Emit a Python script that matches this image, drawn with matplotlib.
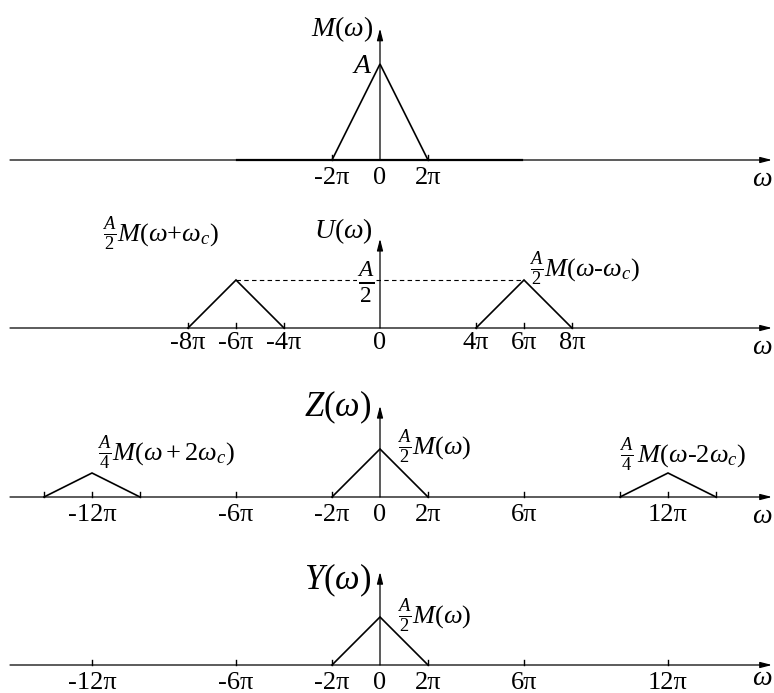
import matplotlib
matplotlib.use("Agg")
import matplotlib.pyplot as plt

plt.rcParams['font.family'] = ['Liberation Serif', 'DejaVu Serif']
plt.rcParams['mathtext.fontset'] = 'custom'
plt.rcParams['mathtext.rm'] = 'Liberation Serif'
plt.rcParams['mathtext.it'] = 'Liberation Serif:italic'
plt.rcParams['mathtext.bf'] = 'Liberation Serif:bold'

# spectra: corners of each triangle, omega in units of pi, height in units of A
M_w = [[-2, 0, 2]]
M_h = [[0, 1, 0]]
U_w = [[-8, -6, -4], [4, 6, 8]]
U_h = [[0, 0.5, 0], [0, 0.5, 0]]
Z_w = [[-14, -12, -10], [-2, 0, 2], [10, 12, 14]]
Z_h = [[0, 0.25, 0], [0, 0.5, 0], [0, 0.25, 0]]
Y_w = [[-2, 0, 2]]
Y_h = [[0, 0.5, 0]]

# tick positions / labels (units of pi)
M_ticks = [-2, 0, 2]
M_labels = ['-2π', '0', '2π']
U_ticks = [-8, -6, -4, 0, 4, 6, 8]
U_labels = ['-8π', '-6π', '-4π', '0', '4π', '6π', '8π']
Z_ticks = [-14, -12, -10, -6, -2, 0, 2, 6, 10, 12, 14]
Z_labels = ['', '-12π', '', '-6π', '-2π', '0', '2π', '6π', '', '12π', '']
Y_ticks = [-12, -6, -2, 0, 2, 6, 12]
Y_labels = ['-12π', '-6π', '-2π', '0', '2π', '6π', '12π']

W, H = 774, 693
X0 = 380        # pixel of omega = 0
PX_PI = 24      # pixels per pi
PX_A = 96       # pixels per A

fig = plt.figure(figsize=(W / 100, H / 100), dpi=100)


def make_panel(base_px, y_top=1.45, y_bot=-0.45):
    bottom = (H - (base_px - y_bot * PX_A)) / H
    height = (y_top - y_bot) * PX_A / H
    ax = fig.add_axes([0, bottom, 1, height])
    ax.set_xlim(-X0 / PX_PI, (W - X0) / PX_PI)
    ax.set_ylim(y_bot, y_top)
    ax.axis('off')
    ax.patch.set_alpha(0)
    return ax


def px(x):
    return (x - X0) / PX_PI


def draw_axes(ax, top, ticks, labels, tick_marks, label_dy=-0.19, lfs=19, w_dy=-0.2):
    arrow = dict(arrowstyle='-|>,head_length=0.7,head_width=0.18', lw=0.9,
                 color='black', shrinkA=0, shrinkB=0)
    ax.annotate('', xy=(px(772), 0), xytext=(px(10), 0), arrowprops=arrow)
    ax.annotate('', xy=(0, top), xytext=(0, 0), arrowprops=arrow)
    for t in tick_marks:
        ax.plot([t, t], [0, 0.055], color='black', lw=1.0, clip_on=False)
    for t, lab in zip(ticks, labels):
        if lab:
            ax.text(t, label_dy, lab, ha='center', va='center', fontsize=lfs)
    ax.text(px(762), w_dy, r'$\omega$', ha='center', va='center', fontsize=20)


def draw_tri(ax, ws, hs):
    for w, h in zip(ws, hs):
        ax.plot(w, h, color='black', lw=1.2, solid_joinstyle='miter', clip_on=False)


# panel 1: M(omega)
ax1 = make_panel(160)
ax1.plot([px(237), px(522)], [0, 0], color='black', lw=1.6)
draw_axes(ax1, 1.37, M_ticks, M_labels, [-2, 2])
draw_tri(ax1, M_w, M_h)
ax1.text(px(373), 1.36, r'$M(\omega)$', ha='right', va='center', fontsize=20)
ax1.text(px(373), 0.97, r'$A$', ha='right', va='center', fontsize=20)

# panel 2: U(omega)
ax2 = make_panel(328)
draw_axes(ax2, 0.93, U_ticks, U_labels, [-8, -6, -4, 4, 6, 8], label_dy=-0.16)
draw_tri(ax2, U_w, U_h)
ax2.plot([U_w[0][1], U_w[1][1]], [U_h[0][1], U_h[1][1]], color='black',
         lw=0.8, ls=(0, (4, 3)))
ax2.text(px(373), 1.01, r'$U(\omega)$', ha='right', va='center', fontsize=20)
ax2.text(px(366), 0.47, r'$\frac{A}{2}$', ha='center', va='center', fontsize=24,
         bbox=dict(facecolor='white', edgecolor='none', pad=0.5))
ax2.text(px(102), 0.98, r'$\frac{A}{2}M(\omega$+$\omega_c)$', ha='left', va='center', fontsize=19)
ax2.text(px(529), 0.62, r'$\frac{A}{2}M(\omega$-$\omega_c)$', ha='left', va='center', fontsize=19)

# panel 3: Z(omega)
ax3 = make_panel(497)
draw_axes(ax3, 0.95, Z_ticks, Z_labels, [-14, -12, -10, -6, -2, 2, 6, 10, 12, 14])
draw_tri(ax3, Z_w, Z_h)
ax3.text(px(371), 0.93, r'$Z(\omega)$', ha='right', va='center', fontsize=25)
ax3.text(px(97), 0.46, r'$\frac{A}{4}M(\omega+2\omega_c)$', ha='left', va='center', fontsize=19)
ax3.text(px(397), 0.52, r'$\frac{A}{2}M(\omega)$', ha='left', va='center', fontsize=19)
ax3.text(px(619), 0.44, r'$\frac{A}{4}\,M(\omega$-$2\omega_c)$', ha='left', va='center', fontsize=19)

# panel 4: Y(omega)
ax4 = make_panel(665)
draw_axes(ax4, 0.97, Y_ticks, Y_labels, [-12, -6, -2, 2, 6, 12], w_dy=-0.14)
draw_tri(ax4, Y_w, Y_h)
ax4.text(px(371), 0.88, r'$Y(\omega)$', ha='right', va='center', fontsize=25)
ax4.text(px(397), 0.51, r'$\frac{A}{2}M(\omega)$', ha='left', va='center', fontsize=19)

fig.savefig('out.png', dpi=100)
